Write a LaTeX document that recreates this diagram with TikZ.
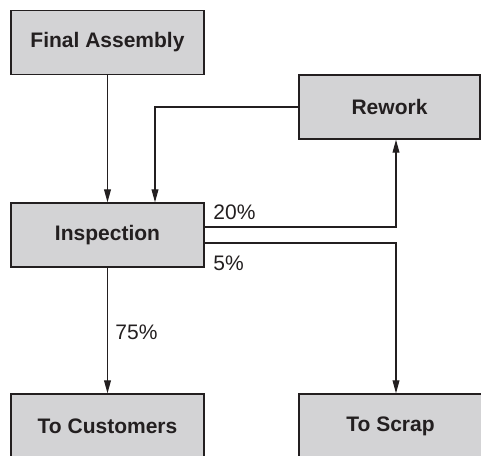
\documentclass[tikz,border=0pt]{standalone}
\usepackage{fontspec}
\setmainfont{Liberation Sans}
\usetikzlibrary{arrows.meta,positioning,calc}
\definecolor{FlowGray}{HTML}{D3D3D5}
\definecolor{FlowDark}{HTML}{231F20}
\tikzset{
  stagebox/.style={draw=FlowDark, fill=FlowGray, line width=0.65pt, align=center,
                   font=\fontsize{10.5}{12}\selectfont\bfseries\color{FlowDark},
                   minimum width=96.5pt, minimum height=32pt, inner sep=0pt},
  flow/.style={-{Triangle[length=6.5pt,width=3.4pt]}, line width=0.6pt, FlowDark},
  share/.style={font=\fontsize{10.5}{12}\selectfont\color{FlowDark}, anchor=west, inner sep=0pt},
}
\begin{document}
\begin{tikzpicture}[x=0.5pt, y=-0.5pt]
  \useasboundingbox (0,0) rectangle (481,455);

  % ---- Stages ----
  \node[stagebox] (assembly) at (107.5,42.5) {Final Assembly};
  \node[stagebox, minimum width=90.5pt] (rework) at (389.5,107) {Rework};
  \node[stagebox] (inspect)  at (107.5,235) {Inspection};
  \node[stagebox] (customer) at (107.5,426) {To Customers};
  \node[stagebox, minimum width=91.5pt] (scrap) at (390.5,426) {To Scrap};

  % ---- Flows ----
  \draw[flow] (assembly.south) -- (inspect.north);
  \draw[flow] (rework.west) -| ([xshift=23.75pt]inspect.north);
  \draw[flow] ([yshift=4pt]inspect.east) -| ([xshift=3.25pt]rework.south);
  \draw[flow] ([yshift=-4pt]inspect.east) -| ([xshift=2.75pt]scrap.north);
  \draw[flow] (inspect.south) -- (customer.north);

  % ---- Shares ----
  \node[share] (reworkshare) at (213,212) {20\%};
  \node[share] (scrapshare)  at (213,263) {5\%};
  \node[share] (custshare)   at (115,332) {75\%};

\end{tikzpicture}
\end{document}
